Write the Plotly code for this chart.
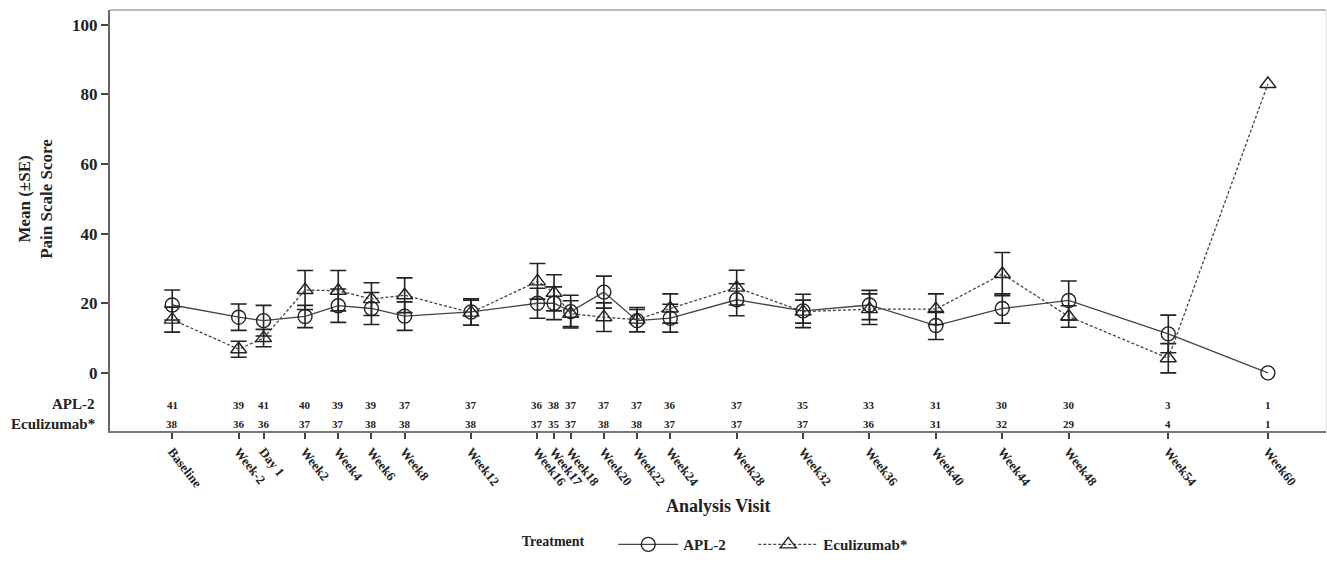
import plotly.graph_objects as go

# ---- data ----
visits = ["Baseline", "Week-2", "Day 1", "Week2", "Week4", "Week6", "Week8", "Week12",
          "Week16", "Week17", "Week18", "Week20", "Week22", "Week24", "Week28", "Week32",
          "Week36", "Week40", "Week44", "Week48", "Week54", "Week60"]
visit_week = [-6, -2, -0.5, 2, 4, 6, 8, 12, 16, 17, 18, 20, 22, 24, 28, 32, 36, 40, 44, 48, 54, 60]

apl_mean = [19.5, 16.0, 15.0, 16.2, 19.3, 18.5, 16.3, 17.5, 20.0, 20.0, 17.6, 23.2, 15.0, 15.7,
            21.0, 17.8, 19.5, 13.6, 18.5, 20.8, 11.2, 0.0]
apl_se = [4.3, 3.8, 4.4, 3.2, 4.8, 4.6, 4.1, 3.8, 4.3, 4.7, 4.7, 4.6, 3.2, 4.0,
          4.6, 4.8, 4.2, 4.0, 4.2, 5.6, 5.4]          # Week60: n=1, no SE

ecu_mean = [15.3, 6.8, 10.0, 23.8, 23.6, 21.2, 22.3, 17.3, 26.3, 23.0, 17.0, 16.0, 15.3, 18.5,
            24.5, 17.6, 18.3, 18.3, 28.4, 16.2, 4.2, 83.0]
ecu_se = [3.6, 2.3, 2.5, 5.6, 5.8, 4.7, 5.0, 3.6, 5.1, 5.2, 3.7, 4.1, 3.5, 4.2,
          5.0, 3.3, 4.4, 4.4, 6.2, 3.1, 4.2]           # Week60: n=1, no SE

apl_n = [41, 39, 41, 40, 39, 39, 37, 37, 36, 38, 37, 37, 37, 36, 37, 35, 33, 31, 30, 30, 3, 1]
ecu_n = [38, 36, 36, 37, 37, 38, 38, 38, 37, 35, 37, 38, 38, 37, 37, 37, 36, 31, 32, 29, 4, 1]

y_ticks = [0, 20, 40, 60, 80, 100]

# ---- styling ----
SERIF = "Liberation Serif, Times New Roman, serif"
INK = "#222222"

fig = go.Figure()

fig.add_trace(go.Scatter(
    x=visit_week, y=apl_mean, name="<b>APL-2</b>      ", mode="lines+markers",
    line=dict(color="#444444", width=1.3),
    marker=dict(symbol="circle-open", size=14, color=INK, line=dict(width=1.4, color=INK)),
    error_y=dict(type="data", array=apl_se, visible=True, color=INK, thickness=1.6, width=8),
))
fig.add_trace(go.Scatter(
    x=visit_week, y=ecu_mean, name="<b>Eculizumab*</b>", mode="lines+markers",
    line=dict(color="#444444", width=1.3, dash="3px,2px"),
    marker=dict(symbol="triangle-up-open", size=14, color=INK, line=dict(width=1.4, color=INK)),
    error_y=dict(type="data", array=ecu_se, visible=True, color=INK, thickness=1.6, width=8),
))

annotations = []
# at-risk numbers inside the plot area
for xv, a, e in zip(visit_week, apl_n, ecu_n):
    annotations.append(dict(x=xv, y=-9.2, xref="x", yref="y", text="<b>%d</b>" % a, showarrow=False,
                            font=dict(family=SERIF, size=11, color=INK), xanchor="center"))
    annotations.append(dict(x=xv, y=-14.8, xref="x", yref="y", text="<b>%d</b>" % e, showarrow=False,
                            font=dict(family=SERIF, size=11, color=INK), xanchor="center"))
# row labels
annotations.append(dict(x=-0.0107, y=-9.0, xref="paper", yref="y", text="<b>APL-2</b>",
                        showarrow=False, xanchor="right",
                        font=dict(family=SERIF, size=15, color=INK)))
annotations.append(dict(x=-0.0107, y=-14.6, xref="paper", yref="y", text="<b>Eculizumab*</b>",
                        showarrow=False, xanchor="right",
                        font=dict(family=SERIF, size=15, color=INK)))
# y title
annotations.append(dict(x=-0.0609, y=50, xref="paper", yref="y",
                        text="<b>Mean (±SE)</b><br><b>Pain Scale Score</b>", textangle=-90,
                        showarrow=False, xanchor="center", yanchor="middle",
                        font=dict(family=SERIF, size=17, color=INK)))
# x title
annotations.append(dict(x=0.5, y=-0.178, xref="paper", yref="paper", text="<b>Analysis Visit</b>",
                        showarrow=False, xanchor="center", yanchor="middle",
                        font=dict(family=SERIF, size=18, color=INK)))

fig.update_layout(
    width=1327, height=562,
    margin=dict(l=110, r=1, t=10, b=125),
    paper_bgcolor="white", plot_bgcolor="white",
    font=dict(family=SERIF, color=INK),
    annotations=annotations,
    showlegend=True,
    legend=dict(orientation="h", x=0.337, y=-0.27, xanchor="left", yanchor="middle",
                title=dict(text="<b>Treatment</b>&nbsp;&nbsp;&nbsp;&nbsp;&nbsp;&nbsp;",
                           font=dict(family=SERIF, size=14, color=INK)),
                font=dict(family=SERIF, size=15, color=INK), itemwidth=60,
                bgcolor="rgba(0,0,0,0)"),
    shapes=[
        dict(type="line", xref="paper", yref="paper", x0=0, x1=1, y0=1, y1=1,
             line=dict(color="#bbbbbb", width=2)),
        dict(type="line", xref="paper", yref="paper", x0=1, x1=1, y0=0, y1=1,
             line=dict(color="#dddddd", width=1)),
    ],
)

fig.update_xaxes(
    range=[-9.75, 63.5], tickmode="array", tickvals=visit_week,
    ticktext=["<b>%s</b>" % v for v in visits], tickangle=52,
    tickfont=dict(family=SERIF, size=13, color=INK),
    ticks="outside", ticklen=6, tickcolor="#444444", tickwidth=1.5,
    showline=True, linecolor="#777777", linewidth=2, showgrid=False, zeroline=False,
)
fig.update_yaxes(
    range=[-16.7, 104.25], tickmode="array", tickvals=y_ticks,
    ticktext=["<b>%d</b>" % v for v in y_ticks],
    tickfont=dict(family=SERIF, size=17, color=INK),
    ticks="outside", ticklen=7, tickcolor="#444444", tickwidth=1.5,
    showline=True, linecolor="#666666", linewidth=2, showgrid=False, zeroline=False,
)

fig.write_html("out.html")
